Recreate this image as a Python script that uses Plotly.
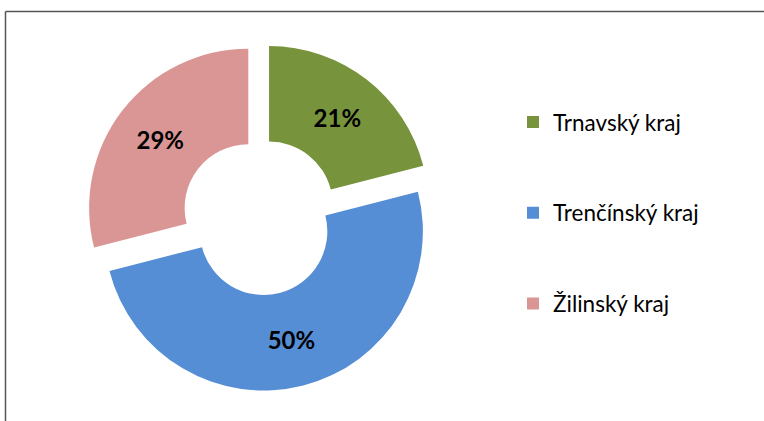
import plotly.graph_objects as go

categories = ["Trnavský kraj", "Trenčínský kraj", "Žilinský kraj"]
values = [21, 50, 29]
colors = ["#77933C", "#558ED5", "#D99694"]

W, H = 764, 421

# padded legend labels (blank lines give Excel-like spacing between entries)
legend_labels = [" <br>" + c + "<br> " for c in categories]

CX, CY, HALF = 260, 217, 174  # pie centre (px from top-left) and half domain size

fig = go.Figure(
    go.Pie(
        labels=legend_labels,
        values=values,
        hole=0.4,
        pull=[0.093] * len(values),
        sort=False,
        direction="clockwise",
        rotation=0,
        marker=dict(colors=colors, line=dict(width=0)),
        textinfo="percent",
        textposition="inside",
        insidetextorientation="horizontal",
        textfont=dict(family="Lato", size=24, color="#000000", weight="bold"),
        domain=dict(
            x=[(CX - HALF) / W, (CX + HALF) / W],
            y=[1 - (CY + HALF) / H, 1 - (CY - HALF) / H],
        ),
        hoverinfo="label+value+percent",
    )
)

border = dict(color="#555555", width=1.5)
fig.update_layout(
    width=W,
    height=H,
    margin=dict(l=0, r=0, t=0, b=0),
    paper_bgcolor="white",
    plot_bgcolor="white",
    showlegend=True,
    legend=dict(
        x=513 / W,
        xanchor="left",
        y=1 - 213 / H,
        yanchor="middle",
        font=dict(family="Lato", size=22.5, color="#000000"),
        valign="middle",
        bgcolor="rgba(0,0,0,0)",
    ),
    shapes=[
        dict(type="line", xref="paper", yref="paper",
             x0=5.5 / W, x1=1.0, y0=1 - 11.5 / H, y1=1 - 11.5 / H,
             line=border, layer="above"),
        dict(type="line", xref="paper", yref="paper",
             x0=5.5 / W, x1=5.5 / W, y0=0.0, y1=1 - 11.5 / H,
             line=border, layer="above"),
    ],
)

fig.write_html(
    "out.html",
    config={"displayModeBar": False},
    post_script="document.body.style.margin='0';document.body.style.overflow='hidden';",
)
